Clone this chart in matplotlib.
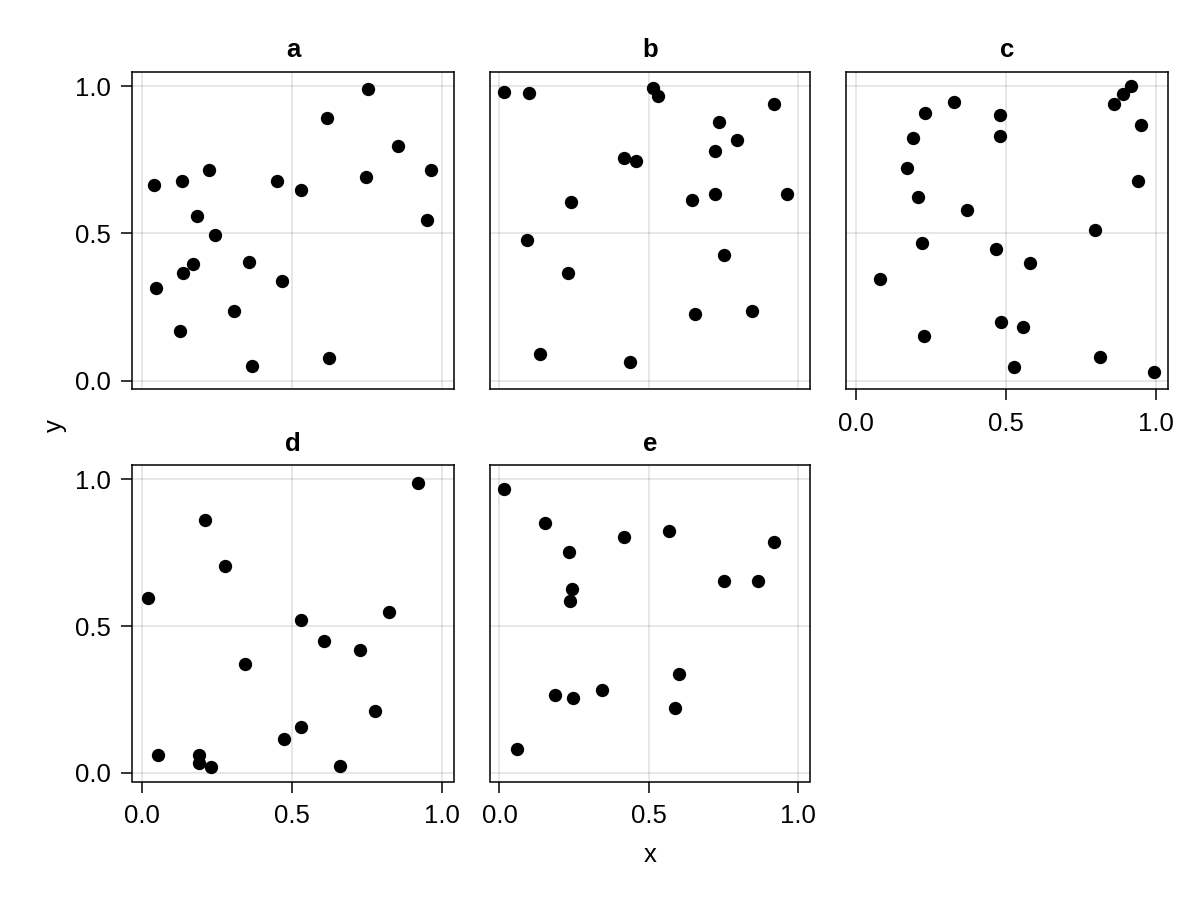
import matplotlib
matplotlib.use("Agg")
import matplotlib.pyplot as plt

plt.rcParams['font.family'] = ['Liberation Sans', 'DejaVu Sans']

# values
a_x = [0.753, 0.618, 0.853, 0.224, 0.963, 0.041, 0.135, 0.450, 0.532, 0.747, 0.184,
       0.949, 0.246, 0.171, 0.139, 0.356, 0.466, 0.047, 0.308, 0.129, 0.367, 0.623]
a_y = [0.989, 0.893, 0.798, 0.714, 0.715, 0.664, 0.677, 0.678, 0.646, 0.692, 0.560,
       0.547, 0.495, 0.397, 0.366, 0.403, 0.340, 0.315, 0.237, 0.168, 0.049, 0.078]

b_x = [0.016, 0.099, 0.514, 0.532, 0.918, 0.736, 0.797, 0.722, 0.418, 0.458, 0.238,
       0.645, 0.722, 0.962, 0.092, 0.753, 0.231, 0.656, 0.845, 0.136, 0.438]
b_y = [0.981, 0.976, 0.995, 0.965, 0.938, 0.878, 0.818, 0.781, 0.755, 0.747, 0.606,
       0.613, 0.633, 0.633, 0.477, 0.428, 0.367, 0.227, 0.236, 0.089, 0.064]

c_x = [0.916, 0.891, 0.859, 0.327, 0.231, 0.482, 0.950, 0.190, 0.482, 0.171, 0.941, 0.208,
       0.371, 0.797, 0.220, 0.466, 0.579, 0.080, 0.484, 0.557, 0.229, 0.812, 0.528, 0.992]
c_y = [0.999, 0.973, 0.939, 0.945, 0.908, 0.902, 0.867, 0.825, 0.832, 0.721, 0.678, 0.625,
       0.580, 0.510, 0.469, 0.446, 0.400, 0.344, 0.198, 0.182, 0.151, 0.082, 0.047, 0.031]

d_x = [0.921, 0.211, 0.277, 0.021, 0.822, 0.529, 0.608, 0.727, 0.343, 0.778, 0.530,
       0.475, 0.055, 0.190, 0.190, 0.231, 0.660]
d_y = [0.989, 0.860, 0.704, 0.597, 0.547, 0.521, 0.448, 0.420, 0.370, 0.211, 0.156,
       0.115, 0.061, 0.061, 0.034, 0.019, 0.024]

e_x = [0.016, 0.153, 0.416, 0.569, 0.234, 0.918, 0.751, 0.866, 0.243, 0.235, 0.600,
       0.343, 0.186, 0.247, 0.589, 0.057]
e_y = [0.967, 0.850, 0.802, 0.824, 0.752, 0.785, 0.655, 0.655, 0.627, 0.586, 0.337,
       0.281, 0.265, 0.254, 0.220, 0.082]

titles = ['a', 'b', 'c', 'd', 'e']
xs = [a_x, b_x, c_x, d_x, e_x]
ys = [a_y, b_y, c_y, d_y, e_y]
ticks = [0.0, 0.5, 1.0]
tick_labels = ['0.0', '0.5', '1.0']

W, H = 1200, 900
fig = plt.figure(figsize=(12, 9), dpi=100)

cols = [(131.7, 454.3), (489.7, 810.3), (845.7, 1168.3)]
rows = [(72.0, 389.5), (465.3, 781.5)]
# (row, col, show x ticks, show y ticks)
slots = [(0, 0, False, True), (0, 1, False, False), (0, 2, True, False),
         (1, 0, True, True), (1, 1, True, False)]

fs = 18.5
axes = []
for i, (r, c, showx, showy) in enumerate(slots):
    l, rgt = cols[c]
    t, b = rows[r]
    kw = {}
    if axes:
        kw = dict(sharex=axes[0], sharey=axes[0])
    ax = fig.add_axes([l / W, 1 - b / H, (rgt - l) / W, (b - t) / H], **kw)
    ax.scatter(xs[i], ys[i], s=92, color='black', linewidths=0, zorder=3)
    ax.set_title(titles[i], fontsize=fs, fontweight='bold', pad=10.5)
    ax.grid(True, color='black', alpha=0.12, linewidth=1.1)
    ax.set_axisbelow(True)
    for sp in ax.spines.values():
        sp.set_linewidth(1.1)
    ax.tick_params(labelsize=fs, length=8, width=1.1,
                   bottom=showx, labelbottom=showx,
                   left=showy, labelleft=showy)
    ax.tick_params(axis='x', pad=8)
    ax.tick_params(axis='y', pad=7)
    axes.append(ax)

axes[0].set_xticks(ticks, tick_labels)
axes[0].set_yticks(ticks, tick_labels)
axes[0].margins(0.05)

fig.text(55 / W, 1 - 426 / H, 'y', fontsize=fs, rotation=90, ha='center', va='center')
fig.text(650 / W, 1 - 855 / H, 'x', fontsize=fs, ha='center', va='center')

fig.savefig('out.png', dpi=100)
